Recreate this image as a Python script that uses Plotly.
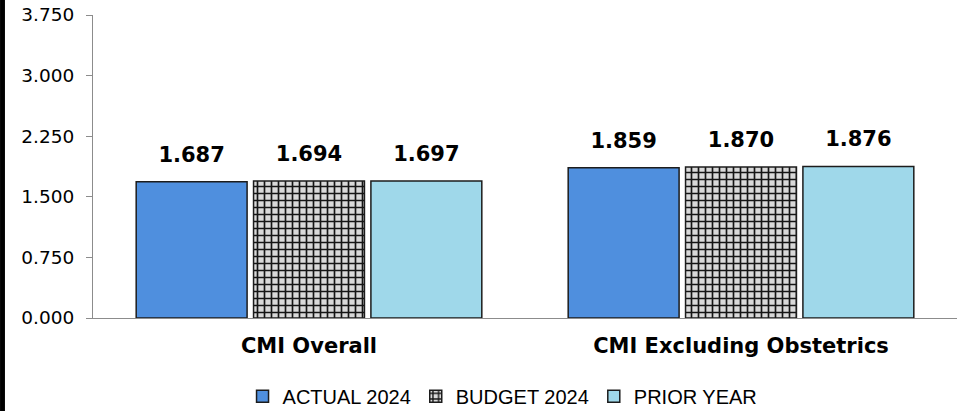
import plotly.graph_objects as go

# chart data
categories = ["CMI Overall", "CMI Excluding Obstetrics"]
series_names = ["ACTUAL 2024", "BUDGET 2024", "PRIOR YEAR"]
actual_2024 = [1.687, 1.859]
budget_2024 = [1.694, 1.870]
prior_year = [1.697, 1.876]
y_ticks = [0.0, 0.75, 1.5, 2.25, 3.0, 3.75]

label_font = dict(family="DejaVu Sans", size=21, color="#000000", weight="bold")
edge = dict(color="#1c1c1c", width=1.5)
brick = dict(shape="+", fgcolor="#151515", bgcolor="#d9d9d9", size=7, solidity=0.42, fillmode="replace")

styles = [
    dict(color="#4f8fde", line=edge),
    dict(color="#d9d9d9", line=edge, pattern=brick),
    dict(color="#9fd8ea", line=edge),
]
values = [actual_2024, budget_2024, prior_year]

fig = go.Figure()
for i, (name, vals, mk) in enumerate(zip(series_names, values, styles)):
    fig.add_trace(go.Bar(name=name, x=categories, y=vals, marker=mk,
                         offsetgroup=str(i), hoverinfo="x+y"))
# value labels, grouped the same way as the bars
for i, vals in enumerate(values):
    fig.add_trace(go.Scatter(x=categories, y=vals, mode="markers+text",
                             text=[f"{v:.3f}" for v in vals], textposition="top center",
                             textfont=label_font, marker=dict(size=22, opacity=0),
                             offsetgroup=str(i), showlegend=False, hoverinfo="skip",
                             cliponaxis=False))

fig.update_layout(
    width=961, height=411,
    margin=dict(l=93, r=4, t=15, b=93, autoexpand=False),
    paper_bgcolor="white", plot_bgcolor="white",
    barmode="group", bargap=0.185, bargroupgap=0.055,
    scattermode="group", scattergap=0.185,
    font=dict(family="DejaVu Sans", color="#000000"),
    showlegend=True,
    legend=dict(orientation="h", x=0.474, xanchor="center", y=-0.258, yanchor="middle",
                font=dict(family="Liberation Sans", size=20, color="#000000"),
                itemwidth=30, traceorder="normal"),
    # thin black strip at the left edge
    shapes=[dict(type="rect", xref="paper", yref="paper",
                 x0=-0.1076, x1=-0.1019, y0=-0.31, y1=1.05,
                 fillcolor="black", line=dict(width=0), layer="above")],
)

fig.update_yaxes(range=[0, 3.75], tickvals=y_ticks, tickformat=".3f",
                 showgrid=False, zeroline=False, showline=True, linecolor="#8c8c8c", linewidth=1,
                 ticks="outside", ticklen=6, tickcolor="#8c8c8c", ticklabelstandoff=8,
                 tickfont=dict(family="DejaVu Sans", size=18.5, color="#000000"))
fig.update_xaxes(showgrid=False, showline=True, linecolor="#8c8c8c", linewidth=1,
                 ticks="", ticklabelstandoff=9,
                 tickfont=dict(family="DejaVu Sans", size=21, color="#000000", weight="bold"))

fig.write_html("out.html", config={"displayModeBar": False},
               post_script="document.body.style.margin='0';")
